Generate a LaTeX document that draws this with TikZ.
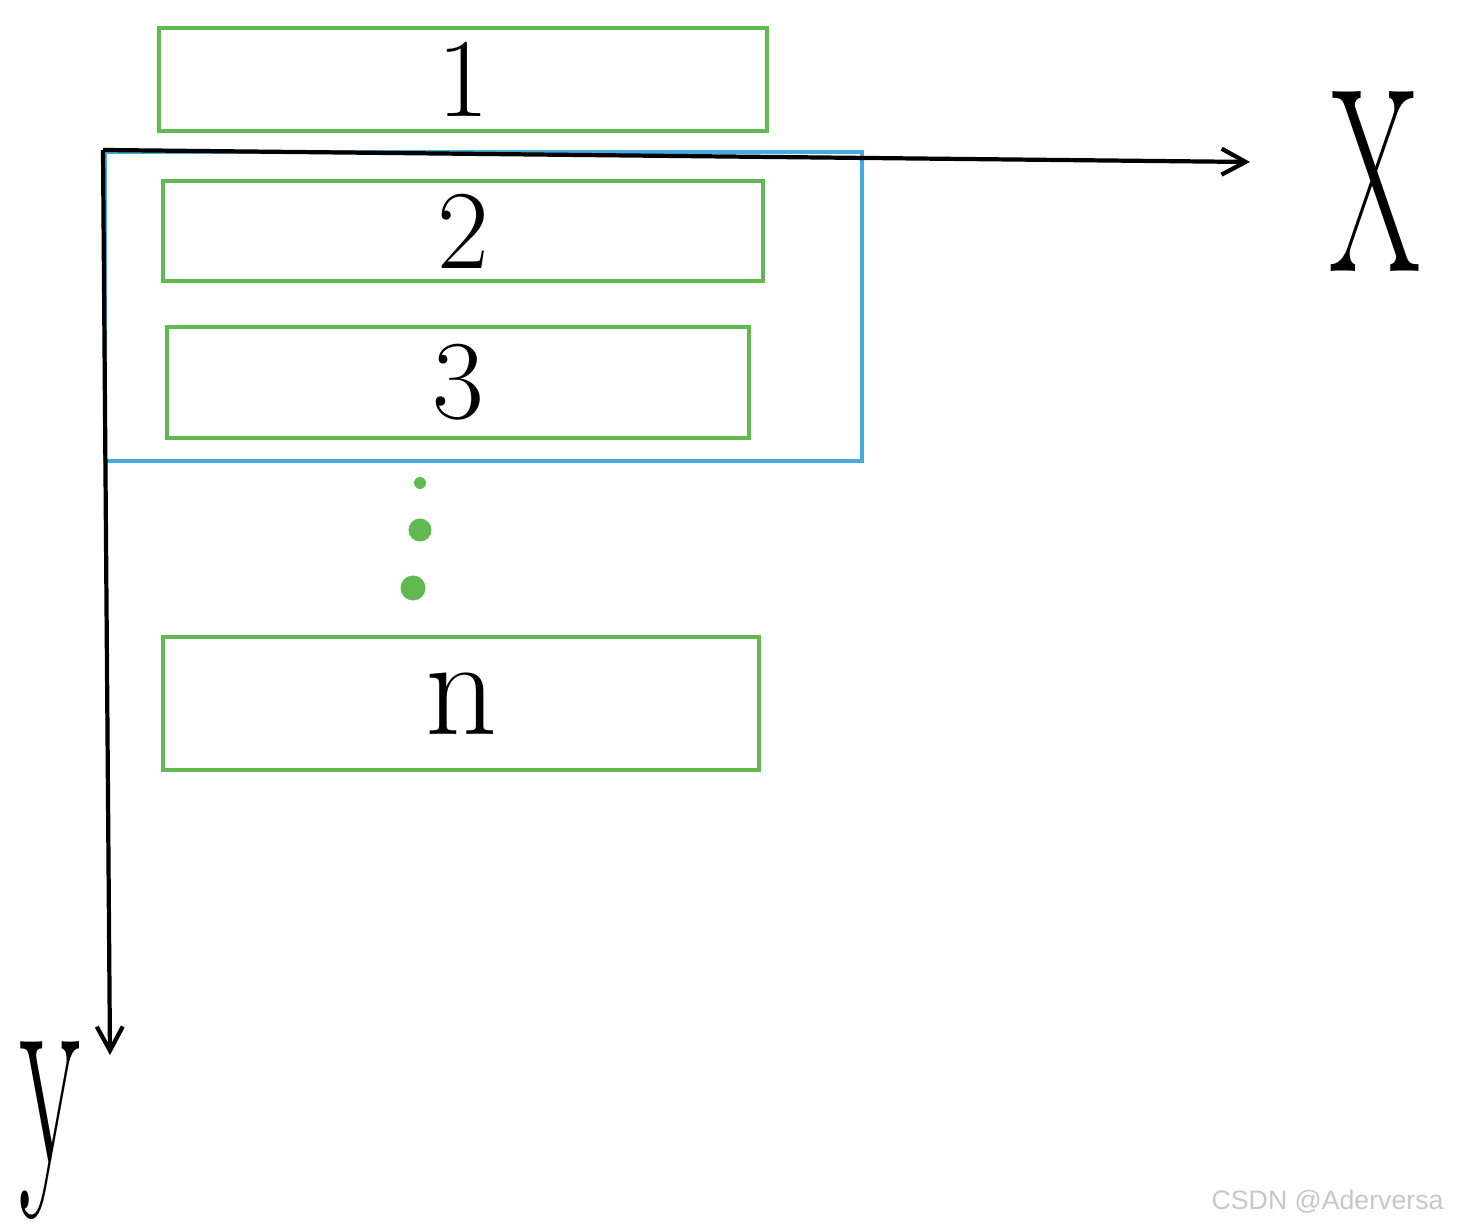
\documentclass[tikz,border=0pt]{standalone}
\usepackage{fontspec}
\newfontfamily\marksfont{Liberation Sans}
\usepackage{tikz}
\usetikzlibrary{positioning, arrows.meta}
\definecolor{slotgreen}{RGB}{96,186,80}
\definecolor{frameblue}{RGB}{70,170,225}
\tikzset{slotbox/.style={rectangle, draw=slotgreen, line width=1.2pt, inner sep=0pt, font=\fontsize{32}{38}\selectfont},
framebox/.style={rectangle, draw=frameblue, line width=1pt, inner sep=0pt},
dotmark/.style={circle, fill=slotgreen, inner sep=0pt},
axisline/.style={line width=1.2pt, -{Straight Barb[length=2.4mm, width=2.6mm, line width=1.2pt]}},}

\begin{document}
\begin{tikzpicture}
\useasboundingbox (0,0) rectangle (14.58,-12.28);
\node [slotbox, minimum width=6.08cm, minimum height=1.03cm] (s1) at (4.63,-0.795) {1};
\node [slotbox, minimum width=6.00cm, minimum height=1.00cm] (s2) at (4.63,-2.31) {2};
\node [slotbox, minimum width=5.82cm, minimum height=1.11cm] (s3) at (4.58,-3.825) {3};
\node [slotbox, minimum width=5.96cm, minimum height=1.33cm, font=\fontsize{40}{46}\selectfont] (sn) at (4.61,-7.035) {n};
\node [framebox, minimum width=7.57cm, minimum height=3.09cm] (win) at (4.835,-3.065) {};
\node [dotmark, minimum size=1.2mm] (d1) at (4.20,-4.83) {};
\node [dotmark, minimum size=2.3mm] (d2) at (4.20,-5.30) {};
\node [dotmark, minimum size=2.5mm] (d3) at (4.13,-5.88) {};
\coordinate (o) at (1.03,-1.50);
\coordinate (xend) at (12.50,-1.62);
\coordinate (yend) at (1.10,-10.55);
\draw[axisline] (o) -- (xend);
\draw[axisline] (o) -- (yend);
\node [anchor=base, inner sep=0pt, font=\fontsize{75}{80}\selectfont] (xl) at (13.75,-2.72) {\scalebox{0.5}[1]{X}};
\node [anchor=base, inner sep=0pt, font=\fontsize{80}{86}\selectfont] (yl) at (0.50,-11.62) {\scalebox{0.45}[1]{y}};
\node [text=black!22, font=\marksfont\fontsize{7.6}{9}\selectfont, anchor=east] (mark) at (14.56,-12.02) {CSDN @Aderversa};
\end{tikzpicture}
\end{document}
